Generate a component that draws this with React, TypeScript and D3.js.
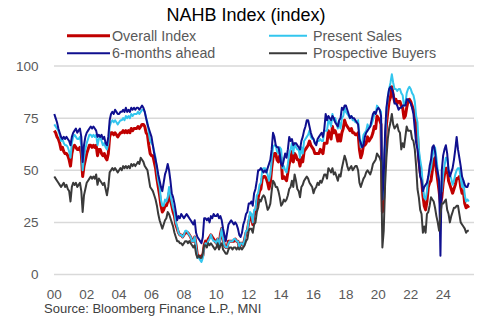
import React from "react";
import * as d3 from "d3";

// Monthly values, Jan 2000 .. Aug 2025
const overallIndex: number[] = [
  69, 68, 66, 65, 63, 60, 61, 59, 58, 58, 57, 55, // 2000
  52, 58, 61, 62, 61, 60, 60, 61, 58, 47, 52, 55, // 2001
  58, 60, 62, 62, 61, 62, 61, 62, 57, 60, 60, 58, // 2002
  57, 58, 56, 55, 58, 66, 68, 68, 67, 68, 67, 66, // 2003
  67, 68, 68, 69, 68, 69, 68, 69, 68, 70, 69, 70, // 2004
  70, 70, 71, 70, 71, 72, 72, 71, 68, 67, 62, 58, // 2005
  57, 57, 54, 51, 46, 42, 38, 33, 30, 31, 33, 33, // 2006
  35, 39, 36, 33, 30, 28, 24, 22, 20, 19, 19, 18, // 2007
  19, 20, 20, 20, 19, 18, 16, 16, 18, 14, 9, 9, // 2008
  8, 9, 9, 14, 16, 15, 17, 18, 19, 18, 17, 16, // 2009
  15, 17, 13, 19, 22, 17, 14, 13, 13, 16, 16, 16, // 2010
  16, 16, 17, 16, 16, 13, 15, 15, 14, 17, 20, 21, // 2011
  25, 28, 28, 24, 29, 29, 35, 37, 40, 41, 46, 47, // 2012
  47, 46, 44, 41, 44, 51, 56, 58, 58, 55, 54, 57, // 2013
  56, 46, 47, 46, 45, 49, 53, 55, 59, 54, 58, 57, // 2014
  55, 55, 52, 56, 54, 59, 60, 61, 62, 64, 62, 61, // 2015
  60, 58, 58, 58, 58, 60, 59, 58, 63, 63, 63, 69, // 2016
  67, 65, 71, 68, 69, 67, 64, 67, 64, 68, 70, 74, // 2017
  72, 71, 70, 69, 70, 68, 68, 67, 67, 68, 60, 56, // 2018
  58, 62, 62, 63, 66, 64, 65, 66, 68, 71, 70, 76, // 2019
  75, 74, 72, 30, 37, 58, 72, 78, 83, 85, 90, 86, // 2020
  83, 84, 82, 83, 83, 81, 80, 75, 76, 80, 83, 84, // 2021
  83, 81, 79, 77, 69, 67, 55, 49, 46, 38, 33, 31, // 2022
  35, 42, 44, 45, 50, 55, 56, 50, 45, 40, 34, 37, // 2023
  44, 48, 51, 51, 45, 43, 41, 39, 41, 43, 46, 46, // 2024
  47, 42, 39, 40, 34, 32, 33, 32, // 2025
];

const presentSales: number[] = [
  72, 71, 70, 69, 67, 64, 65, 63, 62, 62, 61, 59,
  56, 63, 66, 67, 66, 65, 65, 66, 62, 50, 56, 60,
  63, 65, 67, 67, 66, 67, 66, 67, 62, 65, 66, 64,
  62, 63, 61, 60, 63, 71, 73, 74, 73, 74, 73, 72,
  73, 74, 74, 75, 74, 76, 75, 76, 75, 77, 76, 77,
  77, 77, 78, 77, 78, 79, 79, 78, 75, 73, 68, 64,
  63, 62, 59, 56, 50, 45, 42, 36, 33, 33, 36, 35,
  37, 42, 38, 35, 32, 30, 25, 23, 20, 19, 19, 18,
  19, 21, 21, 20, 19, 18, 16, 16, 18, 13, 8, 8,
  7, 6, 8, 13, 15, 14, 16, 17, 19, 17, 16, 16,
  15, 17, 13, 18, 22, 17, 14, 13, 13, 15, 16, 16,
  16, 17, 17, 16, 16, 13, 15, 15, 14, 17, 21, 21,
  26, 30, 29, 25, 31, 31, 38, 39, 43, 44, 50, 51,
  51, 50, 48, 45, 48, 55, 61, 62, 62, 59, 58, 61,
  60, 51, 52, 50, 49, 53, 58, 60, 63, 58, 63, 61,
  60, 60, 56, 61, 58, 64, 65, 66, 67, 69, 66, 65,
  65, 63, 63, 64, 64, 65, 64, 64, 69, 69, 69, 74,
  73, 71, 77, 74, 75, 73, 70, 73, 70, 75, 76, 80,
  78, 77, 76, 75, 76, 74, 74, 73, 73, 74, 67, 61,
  63, 67, 68, 69, 72, 70, 71, 72, 74, 77, 77, 81,
  80, 79, 78, 36, 42, 63, 78, 85, 89, 92, 96, 92,
  89, 89, 88, 89, 89, 87, 86, 81, 82, 87, 89, 90,
  89, 87, 86, 83, 76, 73, 60, 55, 51, 42, 37, 36,
  40, 47, 49, 51, 56, 60, 61, 56, 50, 45, 39, 40,
  48, 52, 56, 56, 50, 48, 46, 43, 45, 48, 50, 51,
  51, 46, 42, 45, 38, 35, 36, 35,
];

const sixMonthsAhead: number[] = [
  77, 75, 73, 70, 68, 66, 65, 66, 65, 66, 65, 64,
  62, 66, 68, 69, 70, 68, 69, 70, 66, 54, 62, 66,
  68, 69, 70, 71, 70, 71, 70, 69, 66, 67, 66, 67,
  65, 66, 63, 62, 66, 74, 77, 78, 77, 79, 78, 77,
  77, 78, 78, 79, 78, 80, 78, 79, 78, 80, 79, 80,
  79, 80, 80, 79, 80, 81, 80, 78, 75, 72, 70, 68,
  66, 62, 58, 55, 52, 48, 45, 42, 40, 44, 48, 50,
  53, 50, 45, 39, 37, 34, 30, 26, 28, 27, 29, 28,
  27, 28, 29, 28, 27, 26, 25, 24, 26, 20, 18, 17,
  16, 15, 18, 27, 27, 26, 27, 25, 28, 27, 29, 28,
  28, 29, 27, 28, 26, 22, 19, 16, 20, 24, 25, 26,
  25, 24, 25, 24, 22, 19, 18, 20, 24, 26, 29, 30,
  34, 34, 35, 33, 39, 41, 45, 50, 50, 51, 50, 49,
  50, 49, 51, 53, 55, 60, 68, 66, 62, 61, 61, 58,
  53, 52, 55, 58, 56, 60, 66, 64, 65, 62, 63, 63,
  62, 61, 60, 64, 66, 69, 71, 74, 74, 71, 68, 66,
  65, 63, 62, 65, 66, 67, 68, 66, 70, 77, 74, 76,
  75, 74, 76, 75, 73, 72, 71, 74, 75, 80, 79, 81,
  81, 79, 77, 75, 76, 75, 75, 74, 73, 72, 65, 63,
  61, 62, 66, 68, 69, 70, 71, 74, 77, 78, 77, 79,
  80, 79, 76, 36, 47, 68, 80, 85, 89, 90, 89, 87,
  82, 82, 81, 79, 80, 80, 81, 81, 81, 84, 84, 83,
  82, 80, 77, 70, 63, 60, 54, 47, 45, 40, 42, 43,
  44, 47, 52, 55, 61, 62, 59, 52, 49, 45, 9, 50,
  57, 60, 62, 58, 50, 47, 49, 51, 55, 60, 66, 60,
  56, 52, 47, 45, 43, 42, 42, 44,
];

const prospectiveBuyers: number[] = [
  47, 46, 45, 44, 43, 42, 43, 44, 42, 43, 41, 40,
  35, 42, 44, 43, 44, 42, 43, 44, 40, 30, 38, 41,
  44, 45, 46, 47, 46, 47, 46, 48, 43, 46, 45, 44,
  43, 44, 41, 38, 42, 49, 50, 51, 50, 51, 50, 49,
  50, 51, 50, 52, 51, 52, 51, 52, 51, 53, 52, 53,
  52, 53, 54, 53, 56, 55, 54, 52, 51, 50, 46, 42,
  41, 40, 38, 36, 33, 29, 26, 24, 22, 24, 26, 27,
  30, 29, 27, 25, 23, 20, 18, 16, 16, 15, 15, 14,
  15, 16, 16, 15, 16, 15, 14, 13, 14, 10, 8, 9,
  8, 8, 10, 14, 14, 13, 15, 14, 15, 14, 13, 12,
  13, 15, 12, 14, 15, 12, 11, 10, 10, 12, 13, 13,
  12, 13, 13, 12, 13, 12, 13, 12, 13, 14, 16, 17,
  21, 22, 22, 20, 24, 25, 30, 32, 36, 35, 37, 38,
  37, 34, 31, 32, 34, 40, 45, 44, 42, 42, 40, 37,
  33, 34, 36, 35, 36, 38, 41, 42, 45, 42, 48, 45,
  41, 40, 37, 42, 43, 45, 46, 47, 46, 44, 43, 42,
  39, 41, 42, 44, 43, 45, 44, 46, 48, 48, 46, 51,
  50, 49, 51, 48, 49, 47, 45, 48, 47, 51, 54, 57,
  55, 52, 50, 51, 52, 50, 51, 52, 52, 50, 44, 42,
  44, 46, 47, 49, 50, 49, 48, 50, 53, 54, 55, 58,
  57, 56, 54, 13, 21, 43, 56, 65, 70, 73, 77, 72,
  70, 71, 72, 69, 68, 60, 63, 61, 66, 71, 69, 69,
  69, 65, 64, 60, 52, 41, 37, 31, 29, 20, 23, 20,
  29, 30, 33, 37, 36, 35, 32, 28, 25, 21, 29, 34,
  34, 35, 36, 31, 29, 25, 28, 30, 32, 32, 33, 33,
  29, 25, 24, 23, 22, 20, 21, 21,
];

const yearLabels = ["00", "02", "04", "06", "08", "10", "12", "14", "16", "18", "20", "22", "24"];
const yTicks = [0, 25, 50, 75, 100];
const seriesNames = ["Overall Index", "Present Sales", "6-months ahead", "Prospective Buyers"];
const seriesColors = ["#c00000", "#33c6ee", "#0f0f8f", "#3a3a3a"];
const seriesWidths = [3, 2, 2, 2];

const W = 492;
const H = 326;
const FONT = "'Liberation Sans', Arial, sans-serif";

export default function App() {
  const x = d3.scaleLinear().domain([0, 311]).range([54.3, 474.2]);
  const y = d3.scaleLinear().domain([0, 100]).range([274.5, 66]);
  const line = d3
    .line<number>()
    .x((_, i) => x(i))
    .y((d) => y(d));
  const allSeries = [overallIndex, presentSales, sixMonthsAhead, prospectiveBuyers];
  const legendPos = [
    { lx: 67, ly: 35.7 },
    { lx: 269, ly: 35.7 },
    { lx: 67, ly: 53.3 },
    { lx: 269, ly: 53.3 },
  ];
  const legendLen = [43, 38, 43, 38];

  return (
    <svg
      width={W}
      height={H}
      viewBox={`0 0 ${W} ${H}`}
      style={{ position: "absolute", left: 0, top: 0, background: "#fff" }}
      fontFamily={FONT}
    >
      <rect width={W} height={H} fill="#fff" />
      <text x={246} y={20.7} textAnchor="middle" fontSize={18} fill="#000">
        NAHB Index (index)
      </text>
      {seriesNames.map((name, i) => (
        <g key={name}>
          <line
            x1={legendPos[i].lx}
            x2={legendPos[i].lx + legendLen[i]}
            y1={legendPos[i].ly}
            y2={legendPos[i].ly}
            stroke={seriesColors[i]}
            strokeWidth={seriesWidths[i]}
          />
          <text
            x={legendPos[i].lx + (i % 2 === 0 ? 45 : 44)}
            y={legendPos[i].ly + 5}
            fontSize={14.3}
            fill="#595959"
          >
            {name}
          </text>
        </g>
      ))}
      {yTicks.map((t) => (
        <g key={t}>
          <line x1={54} x2={474} y1={y(t)} y2={y(t)} stroke="#d9d9d9" strokeWidth={1.5} />
          <text x={38.5} y={y(t) + 4.6} textAnchor="end" fontSize={13.5} fill="#595959">
            {t}
          </text>
        </g>
      ))}
      {yearLabels.map((lab, k) => (
        <text key={lab} x={x(k * 24)} y={299} textAnchor="middle" fontSize={13.5} fill="#595959">
          {lab}
        </text>
      ))}
      {allSeries.map((s, i) => (
        <path
          key={i}
          d={line(s) || ""}
          fill="none"
          stroke={seriesColors[i]}
          strokeWidth={seriesWidths[i]}
          strokeLinejoin="round"
        />
      ))}
      <text x={44} y={313.3} fontSize={13} fill="#404040">
        Source: Bloomberg Finance L.P., MNI
      </text>
    </svg>
  );
}
